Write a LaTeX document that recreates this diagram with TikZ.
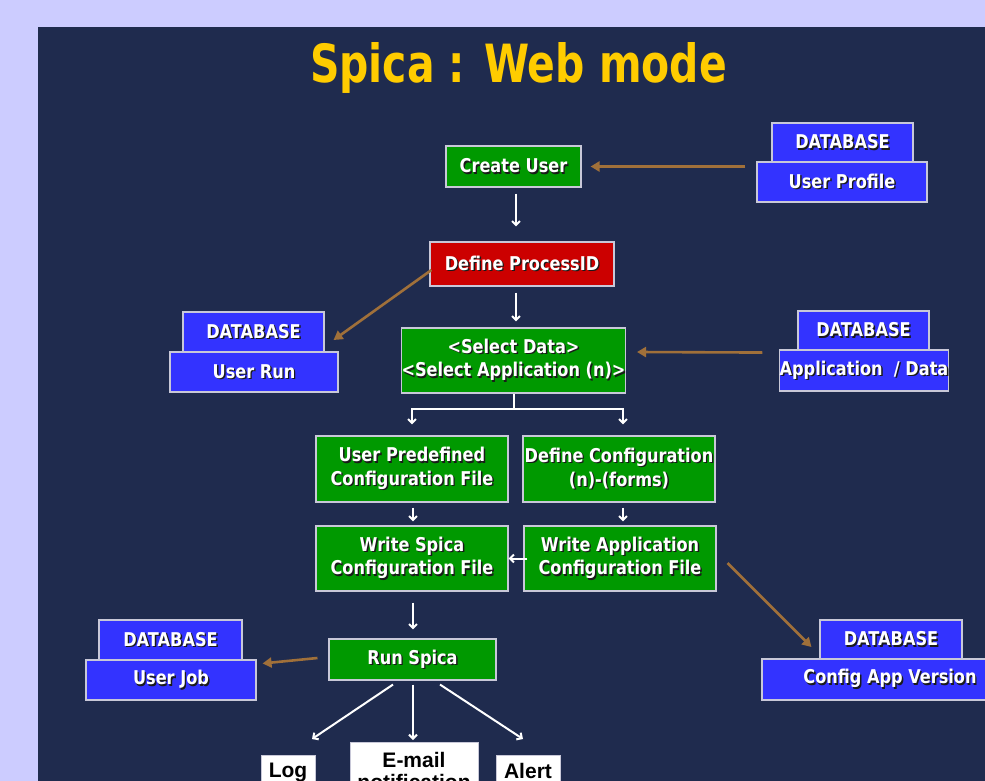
\documentclass[tikz,border=0pt]{standalone}
\usepackage{fontspec}
\usetikzlibrary{arrows.meta,calc}
\newfontfamily\boxfont{DejaVu Sans}[FakeStretch=0.85]
\newfontfamily\blkfont{Liberation Sans}
\definecolor{cLav}{HTML}{CCCCFF}
\definecolor{cNavy}{HTML}{1F2B4E}
\definecolor{cTitle}{HTML}{FFCC00}
\definecolor{cGreen}{HTML}{009900}
\definecolor{cRed}{HTML}{CC0000}
\definecolor{cBlue}{HTML}{3333FF}
\definecolor{cBorder}{HTML}{C8C8D8}
\definecolor{cBrown}{HTML}{A0703A}
\definecolor{cShadow}{HTML}{1A1A1A}
\newcommand\sh[1]{\makebox[0pt][l]{\kern1.4pt\raisebox{-1.4pt}{\textcolor{cShadow}{#1}}}#1}
\tikzset{
  basebox/.style={draw=cBorder, line width=1.1pt, inner sep=0pt, text=white, align=center,
    font=\boxfont\bfseries\fontsize{19}{23.5}\selectfont},
  gbox/.style={basebox, fill=cGreen},
  rbox/.style={basebox, fill=cRed},
  dbbox/.style={basebox, fill=cBlue},
  wbox/.style={draw=cBorder, line width=1pt, fill=white, text=black, align=center,
    inner xsep=0pt, font=\blkfont\bfseries\fontsize{21}{22}\selectfont},
  warrow/.style={draw=white, line width=2pt, -{Straight Barb[length=4pt,width=8pt]}},
  wline/.style={draw=white, line width=2pt},
  barrow/.style={draw=cBrown, line width=2.6pt, -{Triangle[length=9pt,width=10pt]}},
}
\begin{document}
\begin{tikzpicture}[x=1pt,y=-1pt]
\useasboundingbox (0,0) rectangle (985,781);
\clip (0,0) rectangle (985,781);
\fill[cLav] (0,0) rectangle (985,781);
\fill[cNavy] (38,27) rectangle (990,790);

% title
\node[anchor=base, text=cTitle, inner sep=0pt] (title) at (518.5,83)
  {\resizebox{417pt}{40pt}{\boxfont\bfseries Spica : Web mode}};

% main flow
\node[gbox, minimum width=135pt, minimum height=41pt] (cu) at (513.5,166.5) {\sh{Create User}};
\node[rbox, minimum width=184pt, minimum height=44pt] (dp) at (522,264) {\sh{Define ProcessID}};
\node[gbox, minimum width=221pt, minimum height=65pt] (sel) at (513.5,360.5)
  {\sh{<Select Data>}\\\sh{<Select Application (n)>}};
\node[gbox, minimum width=192pt, minimum height=66pt] (upd) at (412,469)
  {\sh{User Predefined}\\\sh{Configuration File}};
\node[gbox, minimum width=192pt, minimum height=66pt] (dc) at (619,469)
  {\sh{Define Configuration}\\\sh{(n)-(forms)}};
\node[gbox, minimum width=192pt, minimum height=65pt] (ws) at (412,558.5)
  {\sh{Write Spica}\\\sh{Configuration File}};
\node[gbox, minimum width=192pt, minimum height=65pt] (wa) at (620,558.5)
  {\sh{Write Application}\\\sh{Configuration File}};
\node[gbox, minimum width=167pt, minimum height=41pt] (rs) at (412.5,659.5) {\sh{Run Spica}};

% databases
\node[dbbox, minimum width=141pt, minimum height=39pt] (upt) at (842.5,142.5) {\sh{DATABASE}};
\node[dbbox, minimum width=170pt, minimum height=40pt] (upb) at (842,182) {\sh{User Profile}};
\node[dbbox, minimum width=141pt, minimum height=40pt] (urt) at (253.5,332) {\sh{DATABASE}};
\node[dbbox, minimum width=168pt, minimum height=40pt] (urb) at (254,372) {\sh{User Run}};
\node[dbbox, minimum width=131pt, minimum height=39pt] (adt) at (863.5,330.5) {\sh{DATABASE}};
\node[dbbox, minimum width=156pt, minimum height=41pt] (adb) at (864,370.5) {\sh{Application\ \ / Data}};
\node[dbbox, minimum width=142pt, minimum height=39pt] (cat) at (891,639.5) {\sh{DATABASE}};
\node[dbbox, minimum width=256pt, minimum height=41pt] (cab) at (890,679.5) {\sh{Config App Version}};
\node[dbbox, minimum width=143pt, minimum height=40pt] (ujt) at (170.5,640) {\sh{DATABASE}};
\node[dbbox, minimum width=170pt, minimum height=40pt] (ujb) at (171,680) {\sh{User Job}};

% outputs
\node[wbox, anchor=north, minimum width=54pt, inner ysep=8pt] (log) at (288,755) {Log};
\node[wbox, anchor=north, minimum width=128pt, inner ysep=10pt] (email) at (414,742) {E-mail\\notification};
\node[wbox, anchor=north, minimum width=64pt, inner ysep=8pt] (alert) at (528,755) {Alert};

% white flow arrows
\draw[warrow, shorten <=6pt, shorten >=15pt] (cu.south -| 516,0) -- (dp.north -| 516,0);
\draw[warrow, shorten <=6pt, shorten >=6pt] (dp.south -| 516,0) -- (sel.north -| 516,0);
\coordinate (br) at (514,409);
\draw[wline] (sel.south -| br) -- (br);
\draw[warrow, shorten >=11pt] (br) -| (upd.north);
\draw[warrow, shorten >=11pt] (br) -| (dc.north -| 623,0);
\draw[warrow, shorten <=5pt, shorten >=4pt] (upd.south -| 413,0) -- (ws.north -| 413,0);
\draw[warrow, shorten <=5pt, shorten >=4pt] (dc.south -| 623,0) -- (wa.north -| 623,0);
\draw[warrow, shorten <=-4pt] (wa.west) -- (ws.east);
\draw[warrow, shorten <=11pt, shorten >=9pt] (ws.south -| 413,0) -- (rs.north -| 413,0);
\draw[warrow] ($(rs.south)+(-19.5,4)$) -- ($(log.north)+(24,-16)$);
\draw[warrow] ($(rs.south)+(0.5,4)$) -- ($(email.north)+(-1,-2)$);
\draw[warrow] ($(rs.south)+(27.5,4)$) -- ($(alert.north)+(-5,-16)$);

% brown arrows
\draw[barrow, shorten <=11pt, shorten >=9pt] (upb.west |- cu.east) -- (cu.east);
\draw[barrow] ($(dp.west)+(2,6)$) -- ($(urt.east)+(9,8)$);
\draw[barrow] ($(adt.south west)+(-35,2)$) -- ($(sel.east)+(11,-8.5)$);
\draw[barrow] ($(wa.east)+(11,4.5)$) -- ($(cat.west)+(-8,7.5)$);
\draw[barrow] ($(rs.west)+(-11,-1.5)$) -- ($(ujb.north east)+(6,4)$);
\end{tikzpicture}
\end{document}
